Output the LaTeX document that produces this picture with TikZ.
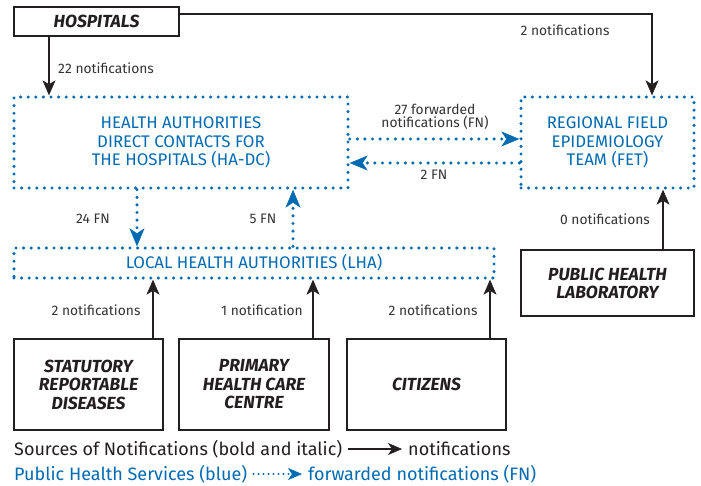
\documentclass[tikz,border=0pt]{standalone}
\usepackage{fontspec}
\setmainfont{Fira Sans}
\usetikzlibrary{arrows.meta}
\definecolor{phblue}{RGB}{0,107,178}
\definecolor{ink}{RGB}{35,31,32}
\definecolor{lblc}{RGB}{51,51,51}
\begin{document}
\begin{tikzpicture}[x=1pt,y=-1pt,
  src/.style={draw=ink, line width=2.6pt, fill=white, font=\fontsize{17.5}{18.5}\selectfont\bfseries\itshape, text=ink, align=center, inner sep=0pt},
  svc/.style={draw=phblue, line width=3.4pt, dash pattern=on 0pt off 7.6pt, line cap=round, text=phblue, font=\fontsize{16.8}{18.5}\selectfont, align=center, inner sep=0pt},
  notif/.style={draw=ink, line width=2.6pt, -{Stealth[length=15pt,width=13pt,inset=4pt,line width=0.5pt]}},
  fwd/.style={draw=phblue, line width=3.4pt, dash pattern=on 0pt off 7.6pt, line cap=round, -{Stealth[length=18pt,width=15pt,inset=5pt,line width=0.5pt]}},
  lbl/.style={text=lblc, font=\fontsize{13.8}{14}\selectfont, inner sep=0pt, align=center},
  legend/.style={anchor=west, font=\fontsize{18}{20}\selectfont, inner sep=0pt},
]
\useasboundingbox (0,0) rectangle (701,485);
% nodes
\node[src, minimum width=165pt, minimum height=29pt] (hosp) at (96.5,21.5) {HOSPITALS};
\node[svc, minimum width=334pt, minimum height=91pt] (hadc) at (181,142.5) {HEALTH AUTHORITIES\\DIRECT CONTACTS FOR\\THE HOSPITALS (HA-DC)};
\node[svc, minimum width=173pt, minimum height=91pt] (fet) at (607.5,142.5) {REGIONAL FIELD\\EPIDEMIOLOGY\\TEAM (FET)};
\node[svc, minimum width=480pt, minimum height=30pt] (lha) at (254,263) {LOCAL HEALTH AUTHORITIES (LHA)};
\node[src, minimum width=173pt, minimum height=66pt, font=\fontsize{17.5}{18}\selectfont\bfseries\itshape] (phl) at (607.5,283) {PUBLIC HEALTH\\LABORATORY};
\node[src, minimum width=149pt, minimum height=91pt] (srd) at (88.5,384.5) {STATUTORY\\REPORTABLE\\DISEASES};
\node[src, minimum width=150pt, minimum height=91pt] (phcc) at (254,384.5) {PRIMARY\\HEALTH CARE\\CENTRE};
\node[src, minimum width=159pt, minimum height=91pt] (cit) at (426.5,384.5) {CITIZENS};
% helper coordinates
\coordinate (xh) at (49,0);
\coordinate (xf) at (652,0);
\coordinate (yh) at (0,14);
\coordinate (y1) at (0,139);
\coordinate (y2) at (0,163);
\coordinate (x24) at (137,0);
\coordinate (x5) at (293,0);
\coordinate (xp) at (663,0);
\coordinate (xs) at (153,0);
\coordinate (xc) at (313,0);
\coordinate (xz) at (490,0);
% connectors
\draw[notif] (hosp.south -| xh) -- (hadc.north -| xh);
\draw[notif] (hosp.east |- yh) -| (fet.north -| xf);
\draw[fwd] (hadc.east |- y1) -- (fet.west |- y1);
\draw[fwd] (fet.west |- y2) -- (hadc.east |- y2);
\draw[fwd] (hadc.south -| x24) -- (lha.north -| x24);
\draw[fwd] (lha.north -| x5) -- (hadc.south -| x5);
\draw[notif] (phl.north -| xp) -- (fet.south -| xp);
\draw[notif] (srd.north -| xs) -- (lha.south -| xs);
\draw[notif] (phcc.north -| xc) -- (lha.south -| xc);
\draw[notif] (cit.north -| xz) -- (lha.south -| xz);
% labels
\node[lbl, anchor=west] (l22) at (58,68) {22 notifications};
\node[lbl] (l2h) at (565,30) {2 notifications};
\node[lbl, font=\fontsize{13.8}{13.5}\selectfont] (l27) at (435,117) {27 forwarded\\notifications (FN)};
\node[lbl] (l2fn) at (434,175) {2 FN};
\node[lbl] (l24) at (93,219) {24 FN};
\node[lbl] (l5) at (263,219) {5 FN};
\node[lbl] (l0) at (605,219) {0 notifications};
\node[lbl] (ls) at (96,310) {2 notifications};
\node[lbl] (lp) at (262,310) {1 notification};
\node[lbl] (lc) at (433,310) {2 notifications};
% legend
\node[legend, text=ink] (leg1) at (14,449) {Sources of Notifications (bold and italic)};
\node[legend, text=ink] (leg1t) at (408,449) {notifications};
\draw[notif, -{Stealth[length=14pt,width=12pt,inset=4pt,line width=0.5pt]}] ([xshift=6pt]leg1.east) -- ([xshift=-6pt]leg1t.west);
\node[legend, text=phblue] (leg2) at (14,474) {Public Health Services (blue)};
\node[legend, text=phblue] (leg2t) at (308,474) {forwarded notifications (FN)};
\draw[fwd, line width=2.4pt, dash pattern=on 0pt off 5pt, -{Stealth[length=14pt,width=12pt,inset=4pt,line width=0.5pt]}] ([xshift=6pt]leg2.east) -- ([xshift=-6pt]leg2t.west);
\end{tikzpicture}
\end{document}
